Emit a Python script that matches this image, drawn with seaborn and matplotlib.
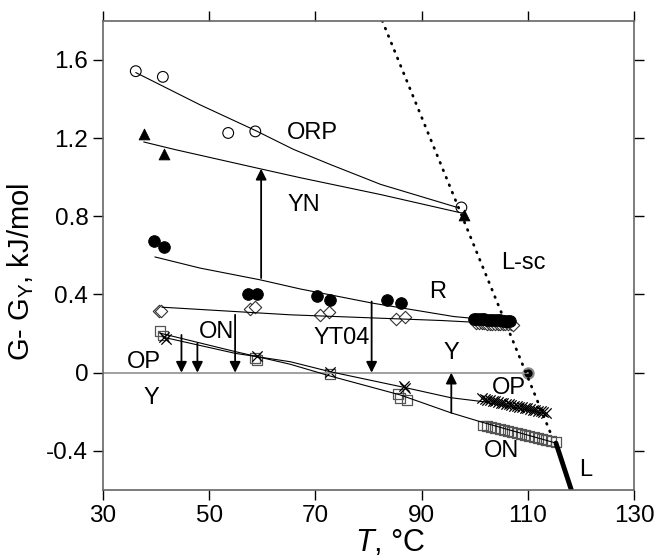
import seaborn as sns
import matplotlib.pyplot as plt

# marker data (T in degC, G - G_Y in kJ/mol)
orp_T = [36.2, 41.3, 53.6, 58.7, 97.5]
orp_G = [1.542, 1.513, 1.226, 1.234, 0.845]
yn_T = [37.7, 41.5, 98.0]
yn_G = [1.219, 1.116, 0.809]
r_T = [39.6, 41.6, 57.4, 59.1, 70.4, 72.8, 83.5, 86.2,
       99.8, 100.3, 100.8, 101.3, 101.8, 102.3, 102.8, 103.3, 103.8, 104.3, 104.8, 105.3, 105.8, 106.3, 106.7]
r_G = [0.672, 0.641, 0.404, 0.404, 0.39, 0.373, 0.371, 0.356,
       0.276, 0.275, 0.274, 0.274, 0.273, 0.272, 0.271, 0.270, 0.269, 0.268, 0.267, 0.266, 0.265, 0.264, 0.263]
yt_T = [40.5, 41.0, 57.7, 58.7, 70.9, 72.5, 85.1, 86.8,
        100.3, 100.8, 101.3, 101.8, 102.3, 102.8, 103.3, 103.8, 104.3, 104.8, 105.3, 105.8, 106.3, 106.8, 107.3]
yt_G = [0.313, 0.318, 0.325, 0.338, 0.296, 0.308, 0.274, 0.284,
        0.253, 0.253, 0.252, 0.252, 0.251, 0.251, 0.250, 0.250, 0.249, 0.249, 0.248, 0.248, 0.247, 0.247, 0.246]
on_T = [40.8, 41.3, 58.6, 59.0, 72.8, 85.6, 86.0, 87.2,
        101.5, 102.3, 103.1, 103.9, 104.7, 105.5, 106.3, 107.1, 107.9, 108.7, 109.5, 110.3, 111.1, 111.9, 112.7, 113.5, 114.3, 115.3]
on_G = [0.214, 0.19, 0.075, 0.065, -0.007, -0.11, -0.131, -0.14,
        -0.270, -0.274, -0.279, -0.283, -0.288, -0.292, -0.297, -0.302, -0.307, -0.312, -0.317, -0.322, -0.328, -0.334, -0.340, -0.345, -0.350, -0.356]
op_T = [41.5, 41.8, 59.0, 72.8, 86.7, 86.9,
        101.4, 101.9, 102.4, 102.9, 103.4, 103.9, 104.4, 104.9, 105.4, 105.9, 106.4, 106.9, 107.4, 107.9,
        108.4, 108.9, 109.4, 109.9, 110.4, 110.9, 111.4, 111.9, 112.4, 112.9, 113.4]
op_G = [0.18, 0.17, 0.085, 0.005, -0.07, -0.08,
        -0.132, -0.135, -0.138, -0.141, -0.144, -0.147, -0.150, -0.153, -0.156, -0.159, -0.162, -0.165, -0.168, -0.171,
        -0.174, -0.177, -0.180, -0.183, -0.186, -0.189, -0.192, -0.195, -0.198, -0.201, -0.205]
y_pt_T = [110.0]
y_pt_G = [0.0]

# fitted curves
orp_fit_T = [36.2, 48.3, 58.7, 65.9, 72.8, 82.3, 97.0]
orp_fit_G = [1.535, 1.37, 1.239, 1.142, 1.065, 0.963, 0.843]
yn_fit_T = [37.7, 43.6, 59.6, 67.2, 82.3, 97.0]
yn_fit_G = [1.18, 1.141, 1.043, 0.997, 0.911, 0.82]
r_fit_T = [39.8, 48.3, 59.6, 67.2, 80.7, 96.1, 106.0]
r_fit_G = [0.592, 0.535, 0.475, 0.428, 0.356, 0.287, 0.262]
yt_fit_T = [41.1, 65.3, 93.6, 107.0]
yt_fit_G = [0.335, 0.296, 0.267, 0.248]
on_fit_T = [40.8, 54.9, 65.3, 72.8, 86.0, 95.5, 101.1, 115.3]
on_fit_G = [0.202, 0.108, 0.043, -0.017, -0.114, -0.205, -0.251, -0.36]
op_fit_T = [41.3, 54.9, 65.3, 72.8, 86.7, 95.5, 101.8, 113.4]
op_fit_G = [0.182, 0.099, 0.056, 0.005, -0.075, -0.128, -0.149, -0.21]
y_line_T = [30, 110]
y_line_G = [0, 0]
lsc_T = [82.6, 114.3]
lsc_G = [1.8, -0.31]
l_T = [115.3, 118.2]
l_G = [-0.36, -0.6]

# arrows: (T, G start, G end)
arrow_T = [59.8, 44.8, 47.8, 54.9, 80.6, 95.6]
arrow_from = [0.484, 0.193, 0.151, 0.296, 0.364, -0.205]
arrow_to = [1.043, 0.0, 0.0, 0.0, 0.0, 0.0]

labels = ['ORP', 'YN', 'L-sc', 'R', 'YT04', 'ON', 'OP', 'Y', 'Y', 'OP', 'ON', 'L']
label_T = [64.6, 64.8, 104.9, 91.4, 69.7, 48.0, 34.5, 37.6, 94.2, 103.2, 101.8, 119.7]
label_G = [1.224, 0.86, 0.561, 0.415, 0.176, 0.21, 0.056, -0.13, 0.10, -0.08, -0.40, -0.50]

sns.set_style('ticks')
plt.rcParams['font.family'] = ['Liberation Sans', 'DejaVu Sans']
plt.rcParams['mathtext.fontset'] = 'custom'
plt.rcParams['mathtext.rm'] = 'Liberation Sans'
plt.rcParams['mathtext.it'] = 'Liberation Sans:italic'
plt.rcParams['text.color'] = 'black'
plt.rcParams['axes.labelcolor'] = 'black'

fig = plt.figure(figsize=(6.55, 5.56), dpi=100)
ax = fig.add_axes([0.157, 0.1187, 0.811, 0.844])

# reference lines
sns.lineplot(x=y_line_T, y=y_line_G, color='#999999', linewidth=1.3, ax=ax)
sns.lineplot(x=lsc_T, y=lsc_G, color='black', linewidth=2, ax=ax,
             linestyle=(0, (0.3, 2.6)), dash_capstyle='round')
sns.lineplot(x=l_T, y=l_G, color='black', linewidth=3.5, ax=ax)

# fits
for ft, fg in [(orp_fit_T, orp_fit_G), (yn_fit_T, yn_fit_G), (r_fit_T, r_fit_G),
               (yt_fit_T, yt_fit_G), (on_fit_T, on_fit_G), (op_fit_T, op_fit_G)]:
    sns.lineplot(x=ft, y=fg, sort=False, estimator=None, color='black', linewidth=0.8, ax=ax)

# markers
sns.scatterplot(x=orp_T, y=orp_G, marker='o', s=60, facecolors='none', edgecolors='black', linewidth=0.8, ax=ax)
sns.scatterplot(x=yn_T, y=yn_G, marker='^', s=60, color='black', edgecolor='black', ax=ax)
sns.scatterplot(x=yt_T, y=yt_G, marker='D', s=40, facecolors='white', edgecolors='#333333', linewidth=0.8, ax=ax)
sns.scatterplot(x=r_T, y=r_G, marker='o', s=70, color='black', edgecolor='black', ax=ax)
sns.scatterplot(x=on_T, y=on_G, marker='s', s=50, facecolors='none', edgecolors='#555555', linewidth=0.9, ax=ax)
sns.scatterplot(x=op_T, y=op_G, marker='x', s=55, color='black', linewidth=0.9, ax=ax)
sns.scatterplot(x=y_pt_T, y=y_pt_G, marker='o', s=55, color='black', edgecolor='#888888', linewidth=1.5, ax=ax)

for t, g0, g1 in zip(arrow_T, arrow_from, arrow_to):
    ax.annotate('', xy=(t, g1), xytext=(t, g0),
                arrowprops=dict(arrowstyle='-|>', color='black', lw=1.3,
                                mutation_scale=16, shrinkA=0, shrinkB=0))

for txt, t, g in zip(labels, label_T, label_G):
    ax.text(t, g, txt, fontsize=17, ha='left', va='center', color='black')

ax.set_xlim(30, 130)
ax.set_ylim(-0.6, 1.8)
ax.set_xticks([30, 50, 70, 90, 110, 130])
ax.set_yticks([-0.4, 0, 0.4, 0.8, 1.2, 1.6])
ax.set_yticklabels(['-0.4', '0', '0.4', '0.8', '1.2', '1.6'])
ax.tick_params(direction='out', length=7, width=1, colors='black', labelsize=17.5,
               top=True, right=True, labeltop=False, labelright=False)
for sp in ax.spines.values():
    sp.set_visible(True)
    sp.set_color('#666666')
    sp.set_linewidth(1.2)

ax.set_xlabel(r'$\mathit{T}$, °C', fontsize=22)
ax.set_ylabel(r'G- G$_\mathregular{Y}$, kJ/mol', fontsize=21)
ax.xaxis.set_label_coords(0.542, -0.08)
ax.yaxis.set_label_coords(-0.125, 0.465)

fig.savefig('out.png', dpi=100)
